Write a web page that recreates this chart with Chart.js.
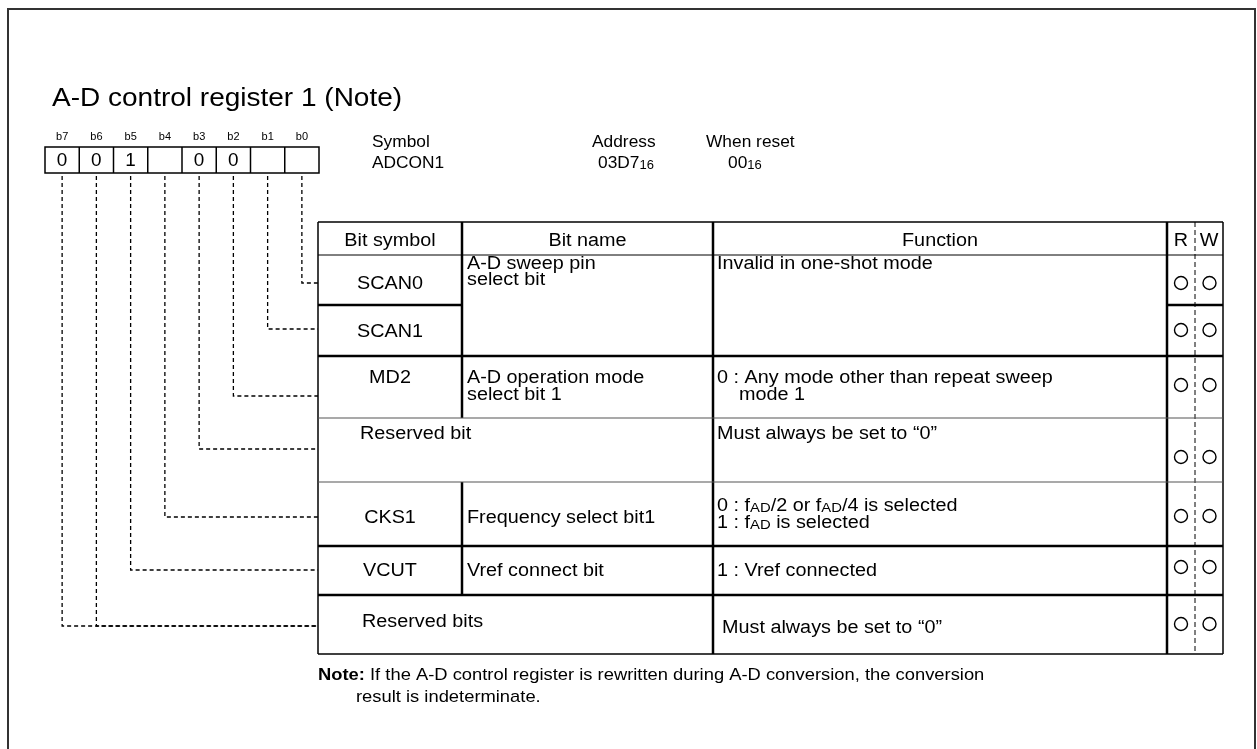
<!DOCTYPE html>
<html>
<head>
<meta charset="utf-8">
<script src="https://cdn.jsdelivr.net/npm/chart.js@4/dist/chart.umd.min.js"></script>
<style>
  html, body { margin: 0; padding: 0; background: #fff; }
  canvas { display: block; }
</style>
</head>
<body>
<canvas id="registro" width="1257" height="749"></canvas>
<script>
// register data
var titleText = 'A-D control register 1 (Note)';
var bitLabels = ['b7', 'b6', 'b5', 'b4', 'b3', 'b2', 'b1', 'b0'];
var bitValues = ['0', '0', '1', '', '0', '0', '', ''];
var infoLabels = ['Symbol', 'Address', 'When reset'];
var infoValues = ['ADCON1', '03D7{16}', '00{16}'];
var headers = ['Bit symbol', 'Bit name', 'Function', 'R', 'W'];
var rowSymbols = ['SCAN0', 'SCAN1', 'MD2', 'Reserved bit', 'CKS1', 'VCUT', 'Reserved bits'];
var rowNames = [['A-D sweep pin', 'select bit'], [], ['A-D operation mode', 'select bit 1'], [], ['Frequency select bit1'], ['Vref connect bit'], []];
var rowFunctions = [
  ['Invalid in one-shot mode'], [],
  ['0 : Any mode other than repeat sweep', '    mode 1'],
  ['Must always be set to \u201c0\u201d'],
  ['0 : f{AD}/2 or f{AD}/4 is selected', '1 : f{AD} is selected'],
  ['1 : Vref connected'],
  ['Must always be set to \u201c0\u201d']
];
var rowBits = [[0], [1], [2], [3], [4], [5], [6, 7]]; // bit numbers per row
var canRead = [1, 1, 1, 1, 1, 1, 1];
var canWrite = [1, 1, 1, 1, 1, 1, 1];
var noteLabel = 'Note:';
var noteLines = [' If the A-D control register is rewritten during A-D conversion, the conversion', 'result is indeterminate.'];

// layout (page units = pixels of the original sheet)
var boxX0 = 45, boxX1 = 319, boxY0 = 147, boxY1 = 173;
var tabX = [318, 462, 713, 1167, 1195, 1223];
var tabTop = 222, headBottom = 255;
var rowBottoms = [305, 356, 418, 482, 546, 595, 654];
var symY = [283, 331, 377, 433, 517, 570, 621];
var textY = [[263, 279], [], [377, 394], [433], [505, 522], [570], [627]];
var circleY = [283, 330, 385, 457, 516, 567, 624];
var leaderY = [283, 329, 396, 449, 517, 570, 626];
var spanRows = [3, 6];   // rows where the symbol covers the bit-name column too
var FONT = '"Liberation Sans", Arial, sans-serif';
var TAB_SIZE = 18, TAB_SX = 1.1;

var cellW = (boxX1 - boxX0) / 8;
function bitCenter(i) { return boxX0 + cellW * (i + 0.5); }   // i = position from left (b7)

var rwPoints = [];
rowSymbols.forEach(function(s, r) {
  if (canRead[r]) rwPoints.push({ x: (tabX[3] + tabX[4]) / 2, y: circleY[r] });
  if (canWrite[r]) rwPoints.push({ x: (tabX[4] + tabX[5]) / 2 + 0.5, y: circleY[r] });
});

// text with {small} parts, stretched horizontally by sx
function rich(ctx, str, x, y, size, align, sx, bold) {
  sx = sx || 1;
  var w8 = bold ? 'bold ' : '';
  var parts = str.split(/(\{[^}]*\})/).filter(function(p) { return p.length; });
  var segs = parts.map(function(p) {
    var small = p.charAt(0) === '{';
    var t = small ? p.slice(1, -1) : p;
    var fs = small ? size * 0.75 : size;
    ctx.font = w8 + fs + 'px ' + FONT;
    return { t: t, fs: fs, w: ctx.measureText(t).width, small: small };
  });
  var total = segs.reduce(function(a, s) { return a + s.w; }, 0);
  var cx = align === 'center' ? -total / 2 : 0;
  ctx.save();
  ctx.translate(x, y);
  ctx.scale(sx, 1);
  ctx.textAlign = 'left';
  ctx.textBaseline = 'alphabetic';
  segs.forEach(function(s) {
    ctx.font = w8 + s.fs + 'px ' + FONT;
    ctx.fillText(s.t, cx, size * 0.36 + (s.small ? 1 : 0));
    cx += s.w;
  });
  ctx.restore();
  return total * sx;
}

var registerPlugin = {
  id: 'registerSheet',
  beforeDatasetsDraw: function(chart) {
    var ctx = chart.ctx;
    var xs = chart.scales.x, ys = chart.scales.y;
    function X(v) { return xs.getPixelForValue(v); }
    function Y(v) { return ys.getPixelForValue(v); }
    function line(x0, y0, x1, y1, w, col) {
      ctx.beginPath();
      ctx.lineWidth = w;
      ctx.strokeStyle = col || '#000';
      ctx.moveTo(X(x0), Y(y0));
      ctx.lineTo(X(x1), Y(y1));
      ctx.stroke();
    }
    ctx.save();
    ctx.fillStyle = '#000';

    // outer frame
    ctx.lineWidth = 2;
    ctx.strokeStyle = '#333';
    ctx.strokeRect(X(8), Y(9), X(1255) - X(8), Y(760) - Y(9));

    // title
    rich(ctx, titleText, X(52), Y(97), 25, 'left', 1.12);

    // bit boxes
    bitLabels.forEach(function(b, i) {
      rich(ctx, b, X(bitCenter(i)), Y(136), 11, 'center', 1.0);
      if (bitValues[i]) rich(ctx, bitValues[i], X(bitCenter(i)), Y(160), 18, 'center', 1.05);
    });
    ctx.lineWidth = 1.5;
    ctx.strokeStyle = '#000';
    ctx.strokeRect(X(boxX0), Y(boxY0), X(boxX1) - X(boxX0), Y(boxY1) - Y(boxY0));
    for (var i = 1; i < 8; i++) line(boxX0 + cellW * i, boxY0, boxX0 + cellW * i, boxY1, 1.5);

    // symbol / address / reset
    var infoX = [372, 592, 706], valX = [372, 598, 728];
    infoLabels.forEach(function(l, k) {
      rich(ctx, l, X(infoX[k]), Y(141), 17, 'left', 1.02);
      rich(ctx, infoValues[k], X(valX[k]), Y(162), 17, 'left', 1.02);
    });

    // dashed leaders from bits to rows
    ctx.setLineDash([4, 3]);
    rowBits.forEach(function(bits, r) {
      bits.forEach(function(b) {
        var cx = bitCenter(7 - b);
        ctx.beginPath();
        ctx.lineWidth = 1.3;
        ctx.strokeStyle = '#000';
        ctx.moveTo(X(cx), Y(boxY1 + 3));
        ctx.lineTo(X(cx), Y(leaderY[r]));
        ctx.lineTo(X(tabX[0]), Y(leaderY[r]));
        ctx.stroke();
      });
    });
    // R/W dashed divider
    ctx.setLineDash([5, 3]);
    line(tabX[4], tabTop, tabX[4], rowBottoms[6], 1);
    ctx.setLineDash([]);

    // table frame
    line(tabX[0], tabTop, tabX[5], tabTop, 1.5);
    line(tabX[0], rowBottoms[6], tabX[5], rowBottoms[6], 1.5);
    line(tabX[0], tabTop, tabX[0], rowBottoms[6], 1.5);
    line(tabX[5], tabTop, tabX[5], rowBottoms[6], 1.5);
    line(tabX[0], headBottom, tabX[5], headBottom, 1);
    // column dividers
    line(tabX[2], tabTop, tabX[2], rowBottoms[6], 2.5);
    line(tabX[3], tabTop, tabX[3], rowBottoms[6], 2.5);
    line(tabX[1], tabTop, tabX[1], rowBottoms[2], 2.5);
    line(tabX[1], rowBottoms[3], tabX[1], rowBottoms[5], 2.5);
    // row lines
    line(tabX[0], rowBottoms[0], tabX[1], rowBottoms[0], 2.5);
    line(tabX[3], rowBottoms[0], tabX[5], rowBottoms[0], 2.5);
    line(tabX[0], rowBottoms[1], tabX[5], rowBottoms[1], 2.5);
    line(tabX[0], rowBottoms[2], tabX[5], rowBottoms[2], 1.2, '#555');
    line(tabX[0], rowBottoms[3], tabX[5], rowBottoms[3], 1.2, '#555');
    line(tabX[0], rowBottoms[4], tabX[5], rowBottoms[4], 2.5);
    line(tabX[0], rowBottoms[5], tabX[5], rowBottoms[5], 2.5);

    // header text
    var hY = (tabTop + headBottom) / 2 + 1;
    for (var h = 0; h < 5; h++) {
      rich(ctx, headers[h], X((tabX[h] + tabX[h + 1]) / 2), Y(hY), TAB_SIZE, 'center', TAB_SX);
    }

    // rows
    rowSymbols.forEach(function(s, r) {
      if (spanRows.indexOf(r) >= 0) {
        rich(ctx, s, X(r === 3 ? 360 : 362), Y(symY[r]), TAB_SIZE, 'left', TAB_SX);
      } else {
        rich(ctx, s, X((tabX[0] + tabX[1]) / 2), Y(symY[r]), TAB_SIZE, 'center', TAB_SX);
      }
      rowNames[r].forEach(function(t, k) {
        var ny = rowNames[r].length === 1 ? symY[r] : textY[r][k];
        rich(ctx, t, X(467), Y(ny), TAB_SIZE, 'left', TAB_SX);
      });
      rowFunctions[r].forEach(function(t, k) {
        rich(ctx, t, X(r === 6 ? 722 : 717), Y(textY[r][k]), TAB_SIZE, 'left', TAB_SX);
      });
    });

    // note
    var nw = rich(ctx, noteLabel, X(318), Y(674), 17, 'left', 1.08, true);
    rich(ctx, noteLines[0], X(318) + nw, Y(674), 17, 'left', 1.08);
    rich(ctx, noteLines[1], X(356), Y(696), 17, 'left', 1.08);
    ctx.restore();
  }
};

new Chart(document.getElementById('registro'), {
  type: 'scatter',
  data: {
    datasets: [{
      label: 'R/W',
      data: rwPoints,
      pointStyle: 'circle',
      pointRadius: 6.5,
      pointHoverRadius: 6.5,
      borderColor: '#000',
      borderWidth: 1.4,
      backgroundColor: '#fff',
      clip: false
    }]
  },
  options: {
    responsive: false,
    animation: false,
    events: [],
    layout: { padding: 0, autoPadding: false },
    plugins: { legend: { display: false }, tooltip: { enabled: false }, title: { display: false } },
    scales: {
      x: { type: 'linear', min: 0, max: 1257, display: false },
      y: { type: 'linear', min: 0, max: 749, reverse: true, display: false }
    }
  },
  plugins: [registerPlugin]
});
</script>
</body>
</html>
